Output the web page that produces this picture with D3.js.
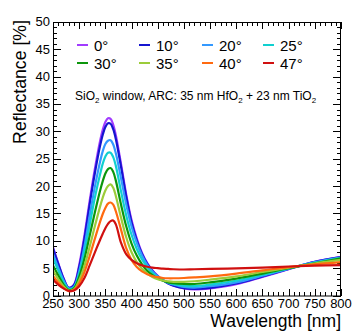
<!DOCTYPE html>
<html><head><meta charset="utf-8">
<script src="https://cdn.jsdelivr.net/npm/d3@7"></script>
<style>body{margin:0;background:#fff}svg{display:block;font-family:"Liberation Sans",Arial,sans-serif}</style>
</head><body><svg id="c" width="355" height="331"></svg>
<script>
const wavelengths=[250,260,270,280,290,300,310,320,330,340,345,350,355,360,365,370,380,390,400,410,420,430,440,450,460,470,480,500,520,550,600,650,700,750,800];
const angles=["0°","10°","20°","25°","30°","35°","40°","47°"];
const colors=["#a23cff","#1515d0","#3399ff","#10d0d0","#0c960c","#9ccc3a","#ff6a10","#d01010"];
const r0 =[8.8,5.9,3.2,1.4,2.0,5.6,11.0,17.3,23.2,28.3,30.3,31.7,32.4,32.3,31.2,29.3,24.0,18.4,13.8,10.4,7.8,5.95,4.6,3.6,2.85,2.25,1.85,1.3,1.1,1.3,2.05,3.4,4.8,6.15,7.05];
const r10=[8.6,5.8,3.1,1.4,1.9,5.2,10.4,16.6,22.4,27.4,29.4,30.8,31.5,31.4,30.4,28.6,23.5,18.0,13.4,10.1,7.6,5.8,4.5,3.5,2.8,2.2,1.8,1.35,1.2,1.4,2.2,3.5,4.85,6.15,7.0];
const r20=[7.6,5.1,2.8,1.3,1.6,4.4,9.0,14.6,19.9,24.5,26.4,27.7,28.3,28.4,27.6,26.0,21.4,16.6,12.6,9.6,7.3,5.6,4.4,3.5,2.8,2.3,2.0,1.55,1.45,1.7,2.4,3.6,4.9,6.1,6.95];
const r25=[6.9,4.6,2.5,1.2,1.5,4.0,8.0,12.9,17.9,22.2,24.1,25.4,26.1,26.1,25.3,23.7,19.0,14.6,11.1,8.5,6.6,5.2,4.1,3.3,2.8,2.4,2.1,1.8,1.7,2.0,2.7,3.8,4.95,6.0,6.9];
const r30=[5.5,3.7,2.0,1.0,1.3,3.4,6.7,10.9,15.2,19.2,20.9,22.3,23.1,23.3,22.6,21.0,16.6,12.6,9.5,7.3,5.7,4.5,3.7,3.1,2.7,2.4,2.25,2.1,2.1,2.4,3.1,4.0,5.0,5.9,6.8];
const r35=[4.6,3.0,1.7,0.9,1.1,2.8,5.4,8.9,12.7,16.3,17.9,19.2,20.0,20.3,19.7,18.2,14.2,10.6,7.9,6.1,4.9,4.0,3.4,3.0,2.75,2.6,2.5,2.5,2.6,2.9,3.5,4.3,5.1,5.85,6.5];
const r40=[3.6,2.4,1.4,0.8,1.0,2.2,4.3,7.2,10.4,13.5,14.9,16.0,16.8,17.0,16.6,15.4,12.0,8.6,6.5,5.2,4.4,3.9,3.55,3.35,3.2,3.15,3.15,3.2,3.3,3.5,4.0,4.6,5.2,5.7,6.1];
const r47=[2.9,2.0,1.3,0.85,0.9,1.7,3.2,5.5,7.9,10.2,11.3,12.3,13.1,13.6,13.7,13.0,9.6,7.5,6.5,5.9,5.5,5.25,5.1,5.0,4.9,4.85,4.8,4.75,4.8,4.85,4.95,5.1,5.3,5.45,5.55];
const series=[r0,r10,r20,r25,r30,r35,r40,r47];
const xDomain=[250,800], yDomain=[0,50];
const xTicks=[250,300,350,400,450,500,550,600,650,700,750,800];
const yTicks=[0,5,10,15,20,25,30,35,40,45,50];

const svg=d3.select("#c");
const L=53,R=341,T=22,B=295.5;
const x=d3.scaleLinear().domain(xDomain).range([L,R]);
const y=d3.scaleLinear().domain(yDomain).range([B,T]);

// ticks
const g=svg.append("g").attr("stroke","#000").attr("stroke-width",1).attr("shape-rendering","crispEdges");
d3.range(250,801,10).forEach(v=>{
  const big=v%50===0, len=big?7:3.5, px=Math.round(x(v))+0.5;
  g.append("line").attr("x1",px).attr("x2",px).attr("y1",B).attr("y2",B-len);
  g.append("line").attr("x1",px).attr("x2",px).attr("y1",T).attr("y2",T+len);
});
d3.range(0,51,1).forEach(v=>{
  const big=v%5===0, len=big?8:4, py=Math.round(y(v))+0.5;
  g.append("line").attr("y1",py).attr("y2",py).attr("x1",L).attr("x2",L+len);
  g.append("line").attr("y1",py).attr("y2",py).attr("x1",R).attr("x2",R-len);
});

// curves
const line=d3.line().x((d,i)=>x(wavelengths[i])).y(d=>y(d)).curve(d3.curveCatmullRom.alpha(0.5));
svg.append("clipPath").attr("id","cp").append("rect").attr("x",L).attr("y",T).attr("width",R-L).attr("height",B-T);
series.forEach((s,k)=>{
  svg.append("path").attr("d",line(s)).attr("fill","none").attr("stroke",colors[k]).attr("stroke-width",2.2).attr("clip-path","url(#cp)");
});

// frame
svg.append("rect").attr("x",L+0.5).attr("y",T+0.5).attr("width",R-L-1).attr("height",B-T).attr("fill","none").attr("stroke","#000").attr("stroke-width",1);

// tick labels
xTicks.forEach(v=>svg.append("text").attr("x",x(v)).attr("y",308).attr("text-anchor","middle").attr("font-size",13).text(v));
yTicks.forEach(v=>svg.append("text").attr("x",50).attr("y",y(v)+4.4).attr("text-anchor","end").attr("font-size",13).text(v));

// axis titles
svg.append("text").attr("x",341).attr("y",327).attr("text-anchor","end").attr("font-size",17.5).text("Wavelength [nm]");
svg.append("text").attr("transform","translate(26,20) rotate(-90)").attr("text-anchor","end").attr("font-size",17.7).text("Reflectance [%]");

// legend
const legX=[77,139,202,263], legY=[45,63];
angles.forEach((a,k)=>{
  const cx=legX[k%4], cy=legY[Math.floor(k/4)];
  svg.append("line").attr("x1",cx).attr("x2",cx+11).attr("y1",cy).attr("y2",cy).attr("stroke",colors[k]).attr("stroke-width",2);
  svg.append("text").attr("x",cx+17).attr("y",cy+5.5).attr("font-size",15).text(a);
});

// annotation
const ann=svg.append("text").attr("x",75).attr("y",100).attr("font-size",12);
ann.append("tspan").text("SiO");
ann.append("tspan").attr("font-size",8).attr("dy",3).text("2");
ann.append("tspan").attr("dy",-3).text(" window, ARC: 35 nm HfO");
ann.append("tspan").attr("font-size",8).attr("dy",3).text("2");
ann.append("tspan").attr("dy",-3).text(" + 23 nm TiO");
ann.append("tspan").attr("font-size",8).attr("dy",3).text("2");
</script></body></html>
